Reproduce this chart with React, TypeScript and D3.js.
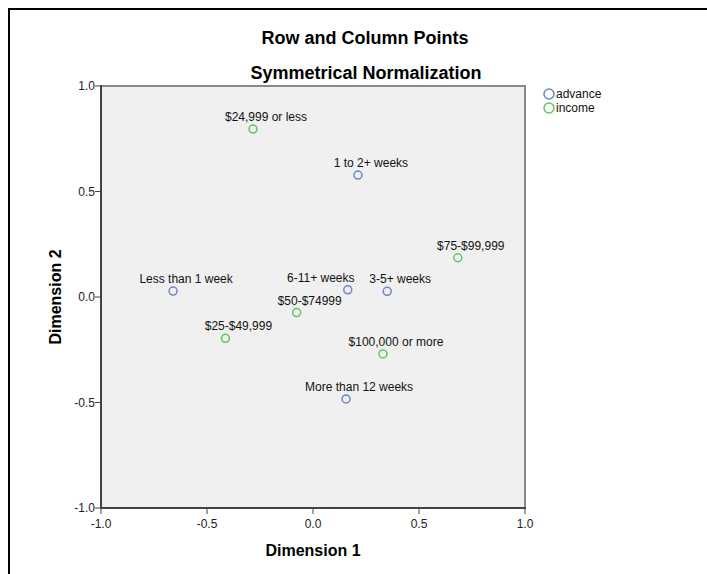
import React from "react";
import * as d3 from "d3";

const W = 707;
const H = 574;

const titleText = "Row and Column Points";
const subtitleText = "Symmetrical Normalization";
const xTitle = "Dimension 1";
const yTitle = "Dimension 2";

const seriesNames = ["advance", "income"];
const seriesColors = ["#6f84c9", "#5fc65f"];

// advance (row points)
const advanceLabels = ["1 to 2+ weeks", "Less than 1 week", "6-11+ weeks", "3-5+ weeks", "More than 12 weeks"];
const advanceX = [0.212, -0.66, 0.164, 0.35, 0.156];
const advanceY = [0.578, 0.028, 0.034, 0.027, -0.483];
const advanceLabelDx = [13, 13, -27, 13, 13];

// income (column points)
const incomeLabels = ["$24,999 or less", "$75-$99,999", "$50-$74999", "$25-$49,999", "$100,000 or more"];
const incomeX = [-0.283, 0.683, -0.077, -0.413, 0.33];
const incomeY = [0.796, 0.186, -0.074, -0.196, -0.27];
const incomeLabelDx = [13, 13, 13, 13, 13];

const tickValues = [-1.0, -0.5, 0.0, 0.5, 1.0];

export default function App() {
  const left = 101, right = 525, top = 86, bottom = 508;
  const x = d3.scaleLinear().domain([-1, 1]).range([left, right]);
  const y = d3.scaleLinear().domain([-1, 1]).range([bottom, top]);
  const fmt = (v: number) => v.toFixed(1);
  const font = "'Liberation Sans', Arial, sans-serif";

  const series = [
    { name: seriesNames[0], color: seriesColors[0], xs: advanceX, ys: advanceY, labels: advanceLabels, dx: advanceLabelDx },
    { name: seriesNames[1], color: seriesColors[1], xs: incomeX, ys: incomeY, labels: incomeLabels, dx: incomeLabelDx },
  ];

  return (
    <svg width={W} height={H} style={{ position: "absolute", left: 0, top: 0, background: "#fff" }} fontFamily={font}>
      <rect x={0} y={0} width={W} height={H} fill="#fff" />
      <path d={`M9,${H} V9 H${W}`} fill="none" stroke="#000" strokeWidth={2} />
      <text x={365} y={44} textAnchor="middle" fontSize={18} fontWeight="bold" fill="#000">{titleText}</text>
      <text x={366} y={79} textAnchor="middle" fontSize={18} fontWeight="bold" fill="#000">{subtitleText}</text>

      <rect x={left} y={top} width={right - left} height={bottom - top} fill="#f0f0f0" stroke="#8a8a8a" strokeWidth={2} />
      <line x1={left} x2={left} y1={top - 1} y2={bottom + 1} stroke="#444" strokeWidth={2} />
      <line x1={left - 1} x2={right + 1} y1={bottom} y2={bottom} stroke="#444" strokeWidth={2} />

      {tickValues.map((t) => (
        <g key={"y" + t}>
          <line x1={left - 6} x2={left} y1={y(t)} y2={y(t)} stroke="#444" strokeWidth={1} />
          <text x={left - 6} y={y(t) + 4} textAnchor="end" fontSize={12} fill="#222">{fmt(t)}</text>
        </g>
      ))}
      {tickValues.map((t) => (
        <g key={"x" + t}>
          <line x1={x(t)} x2={x(t)} y1={bottom} y2={bottom + 6} stroke="#444" strokeWidth={1} />
          <text x={x(t)} y={bottom + 20} textAnchor="middle" fontSize={12} fill="#222">{fmt(t)}</text>
        </g>
      ))}

      <text x={(left + right) / 2} y={556} textAnchor="middle" fontSize={16} fontWeight="bold" fill="#000">{xTitle}</text>
      <text transform={`translate(61,${(top + bottom) / 2}) rotate(-90)`} textAnchor="middle" fontSize={16} fontWeight="bold" fill="#000">{yTitle}</text>

      {series.map((s) => (
        <g key={s.name}>
          {s.xs.map((v, i) => (
            <g key={i}>
              <circle cx={x(v)} cy={y(s.ys[i])} r={4} fill="none" stroke={s.color} strokeWidth={1.5} />
              <text x={x(v) + s.dx[i]} y={y(s.ys[i]) - 8} textAnchor="middle" fontSize={12} fill="#111">{s.labels[i]}</text>
            </g>
          ))}
        </g>
      ))}

      {series.map((s, i) => (
        <g key={"leg" + s.name}>
          <circle cx={549} cy={94 + i * 14} r={5} fill="none" stroke={s.color} strokeWidth={1.5} />
          <text x={556} y={98 + i * 14} fontSize={12} fill="#111">{s.name}</text>
        </g>
      ))}
    </svg>
  );
}
